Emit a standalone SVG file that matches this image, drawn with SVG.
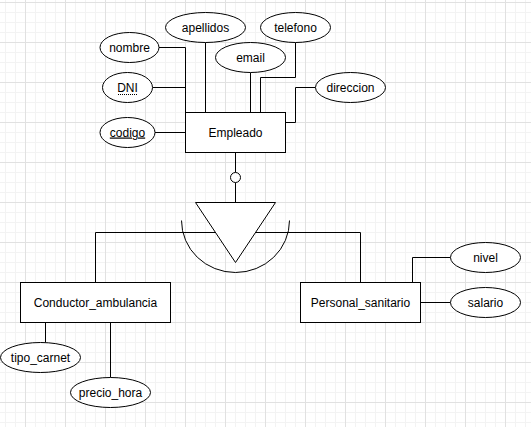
<svg xmlns="http://www.w3.org/2000/svg" width="531" height="427" viewBox="0 0 531 427">
<style>
.shp{fill:#fff;stroke:#000;stroke-width:1}
.ln{fill:none;stroke:#000;stroke-width:1}
.arc{fill:none;stroke:#000;stroke-width:1}
text{font-family:"Liberation Sans",Arial,Helvetica,sans-serif;font-size:12px;fill:#000;text-anchor:middle}
</style>
<defs>
<pattern id="grid" patternUnits="userSpaceOnUse" x="25" y="2" width="40" height="40">
<rect x="0" y="0" width="40" height="40" fill="#fff"/>
<rect x="10" y="0" width="1" height="40" fill="#f3f3f3"/>
<rect x="20" y="0" width="1" height="40" fill="#f3f3f3"/>
<rect x="30" y="0" width="1" height="40" fill="#f3f3f3"/>
<rect x="0" y="10" width="40" height="1" fill="#f3f3f3"/>
<rect x="0" y="20" width="40" height="1" fill="#f3f3f3"/>
<rect x="0" y="30" width="40" height="1" fill="#f3f3f3"/>
<rect x="0" y="0" width="1" height="40" fill="#e1e1e1"/>
<rect x="0" y="0" width="40" height="1" fill="#e1e1e1"/>
</pattern>
</defs>
<rect x="0" y="0" width="531" height="427" fill="url(#grid)"/>

<g id="connectors">
<polyline class="ln" points="159,47.5 185.5,47.5 185.5,112.5"/>
<line class="ln" x1="152.5" y1="87.5" x2="185.5" y2="87.5"/>
<line class="ln" x1="155" y1="132.5" x2="185.5" y2="132.5"/>
<line class="ln" x1="205.5" y1="42.5" x2="205.5" y2="112.5"/>
<line class="ln" x1="250.5" y1="72.5" x2="250.5" y2="112.5"/>
<polyline class="ln" points="295.5,42.5 295.5,77.5 260.5,77.5 260.5,112.5"/>
<polyline class="ln" points="315.5,87.5 295.5,87.5 295.5,122.5 285.5,122.5"/>
<line class="ln" x1="235.5" y1="152.5" x2="235.5" y2="172.5"/>
<line class="ln" x1="235.5" y1="182.5" x2="235.5" y2="202.5"/>
<polyline class="ln" points="235.5,232.5 95.5,232.5 95.5,282.5"/>
<polyline class="ln" points="235.5,232.5 360.5,232.5 360.5,282.5"/>
<polyline class="ln" points="450.5,257.5 412.5,257.5 412.5,282.5"/>
<line class="ln" x1="420.5" y1="302.5" x2="450.5" y2="302.5"/>
<line class="ln" x1="45.5" y1="322.5" x2="45.5" y2="342.5"/>
<line class="ln" x1="110.5" y1="322.5" x2="110.5" y2="377.5"/>
</g>

<g id="empleado">
<rect class="shp" x="185.5" y="112.5" width="100" height="40"/>
<text x="235.5" y="136.5">Empleado</text>
</g>

<g id="nombre">
<ellipse class="shp" cx="129.5" cy="47.5" rx="29.5" ry="15"/>
<text x="129.5" y="51.5">nombre</text>
</g>

<g id="dni">
<ellipse class="shp" cx="127.5" cy="87.5" rx="25" ry="15"/>
<text x="127.5" y="91.5">DNI</text>
<line x1="118" y1="94.5" x2="138" y2="94.5" stroke="#000" stroke-width="1" stroke-dasharray="1,1"/>
</g>

<g id="codigo">
<ellipse class="shp" cx="127.5" cy="132.5" rx="27.5" ry="15"/>
<text x="127.5" y="136.5" text-decoration="underline">codigo</text>
</g>

<g id="apellidos">
<ellipse class="shp" cx="205.5" cy="27.5" rx="40" ry="15"/>
<text x="205.5" y="31.5">apellidos</text>
</g>

<g id="email">
<ellipse class="shp" cx="250.5" cy="57.5" rx="35" ry="15"/>
<text x="250.5" y="61.5">email</text>
</g>

<g id="telefono">
<ellipse class="shp" cx="295.5" cy="27.5" rx="35" ry="15"/>
<text x="295.5" y="31.5">telefono</text>
</g>

<g id="direccion">
<ellipse class="shp" cx="350.5" cy="87.5" rx="35" ry="15"/>
<text x="350.5" y="91.5">direccion</text>
</g>

<g id="isa">
<circle class="shp" cx="235.5" cy="177.5" r="5"/>
<polygon class="shp" points="195.5,202.5 275.5,202.5 235.5,262.5"/>
<path class="arc" d="M181.5 220.5 A54 52 0 0 0 289.5 220.5"/>
</g>

<g id="conductor_ambulancia">
<rect class="shp" x="20.5" y="282.5" width="150" height="40"/>
<text x="95.5" y="306.5">Conductor_ambulancia</text>
</g>

<g id="personal_sanitario">
<rect class="shp" x="300.5" y="282.5" width="120" height="40"/>
<text x="360.5" y="306.5">Personal_sanitario</text>
</g>

<g id="nivel">
<ellipse class="shp" cx="485.5" cy="257.5" rx="35" ry="15"/>
<text x="485.5" y="261.5">nivel</text>
</g>

<g id="salario">
<ellipse class="shp" cx="485.5" cy="302.5" rx="35" ry="15"/>
<text x="485.5" y="306.5">salario</text>
</g>

<g id="tipo_carnet">
<ellipse class="shp" cx="40.5" cy="357.5" rx="40" ry="15"/>
<text x="40.5" y="361.5">tipo_carnet</text>
</g>

<g id="precio_hora">
<ellipse class="shp" cx="110.5" cy="392.5" rx="40" ry="15"/>
<text x="110.5" y="396.5">precio_hora</text>
</g>
</svg>
